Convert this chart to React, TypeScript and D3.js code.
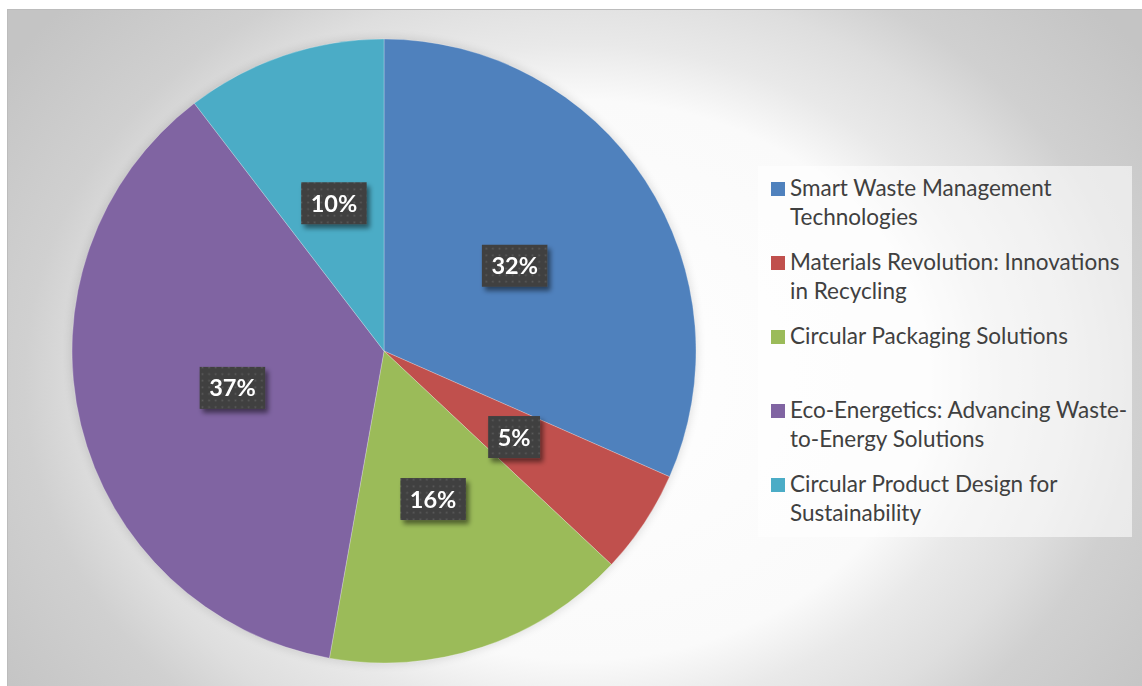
import React, { useMemo } from "react";
import * as d3 from "d3";

const categories = [
  "Smart Waste Management Technologies",
  "Materials Revolution: Innovations in Recycling",
  "Circular Packaging Solutions",
  "Eco-Energetics: Advancing Waste-to-Energy Solutions",
  "Circular Product Design for Sustainability",
];
const shares = [31.6, 5.4, 15.8, 36.8, 10.4];
const colors = ["#4F81BD", "#C0504D", "#9BBB59", "#8064A2", "#4BACC6"];
const legendLines = [
  ["Smart Waste Management", "Technologies"],
  ["Materials Revolution: Innovations", "in Recycling"],
  ["Circular Packaging Solutions"],
  ["Eco-Energetics: Advancing Waste-", "to-Energy Solutions"],
  ["Circular Product Design for", "Sustainability"],
];

const W = 1142;
const H = 686;
const CX = 384;
const CY = 351;
const R = 312;
const LEGEND_TOP_BASELINE = 196;
const LEGEND_STEP = 74;
const LINE_H = 29;
const LABEL_FONT = "bold 23.5px Lato";

function measure(text: string, font: string): number {
  const c = document.createElement("canvas");
  const ctx = c.getContext("2d");
  if (!ctx) return text.length * 12;
  ctx.font = font;
  return ctx.measureText(text).width;
}

export default function App() {
  const total = d3.sum(shares);
  const arcs = useMemo(
    () => d3.pie<number>().sort(null).value((d) => d)(shares),
    []
  );
  const arc = d3.arc<d3.PieArcDatum<number>>().innerRadius(0).outerRadius(R);
  const fmt = d3.format(".0%");

  return (
    <div style={{ position: "absolute", left: 0, top: 0 }}>
      <svg width={W} height={H} style={{ display: "block" }}>
        <defs>
          <radialGradient
            id="bg"
            gradientUnits="userSpaceOnUse"
            cx={580}
            cy={380}
            r={560}
            gradientTransform="translate(580,380) scale(1.24,1) translate(-580,-380)"
          >
            <stop offset="0" stopColor="#ffffff" />
            <stop offset="0.5" stopColor="#fafafa" />
            <stop offset="0.6" stopColor="#e9e9e9" />
            <stop offset="0.71" stopColor="#dedede" />
            <stop offset="0.8" stopColor="#d0d0d0" />
            <stop offset="1" stopColor="#c4c4c4" />
          </radialGradient>
          <pattern id="dots" width={6.6} height={6.6} patternUnits="userSpaceOnUse">
            <rect width={6.6} height={6.6} fill="#404040" />
            <rect x={2.5} y={2.5} width={1.6} height={1.6} fill="#5c5c5c" />
          </pattern>
          <filter id="lblShadow" x="-30%" y="-30%" width="160%" height="160%">
            <feGaussianBlur in="SourceAlpha" stdDeviation="2.5" />
            <feOffset dx="3" dy="3.5" result="b" />
            <feComponentTransfer>
              <feFuncA type="linear" slope="0.5" />
            </feComponentTransfer>
            <feMerge>
              <feMergeNode />
              <feMergeNode in="SourceGraphic" />
            </feMerge>
          </filter>
          <filter id="pieShadow" x="-10%" y="-10%" width="120%" height="120%">
            <feGaussianBlur stdDeviation="5" />
          </filter>
        </defs>

        <rect x={7.5} y={9.5} width={W} height={H} fill="url(#bg)" stroke="#bcbcbc" strokeWidth={1} />

        <circle cx={CX} cy={CY} r={R + 1} fill="#000" opacity={0.12} filter="url(#pieShadow)" />

        <g transform={`translate(${CX},${CY})`}>
          {arcs.map((a, i) => (
            <path
              key={categories[i]}
              d={arc(a) || ""}
              fill={colors[i]}
              stroke="#ffffff"
              strokeWidth={0.5}
              strokeOpacity={0.5}
            />
          ))}
          {arcs.map((a, i) => {
            const [x, y] = arc.centroid(a);
            const label = fmt(a.data / total);
            const tw = measure(label, LABEL_FONT);
            const bw = tw + 19;
            const bh = 42;
            return (
              <g key={"l" + i} filter="url(#lblShadow)">
                <rect x={x - bw / 2} y={y - bh / 2} width={bw} height={bh} fill="url(#dots)" />
                <text
                  x={x}
                  y={y + 8.5}
                  textAnchor="middle"
                  fill="#ffffff"
                  style={{ font: LABEL_FONT }}
                >
                  {label}
                </text>
              </g>
            );
          })}
        </g>

        <rect x={758} y={166} width={374} height={371} fill="#ffffff" opacity={0.58} />
        {legendLines.map((lines, i) => {
          const b = LEGEND_TOP_BASELINE + i * LEGEND_STEP;
          return (
            <g key={"lg" + i}>
              <rect x={771} y={b - 14} width={14} height={14} fill={colors[i]} />
              <text
                x={790}
                y={b}
                fill="#404040"
                style={{ font: "22.5px Lato" }}
              >
                {lines.map((t, j) => (
                  <tspan key={j} x={790} y={b + j * LINE_H}>
                    {t}
                  </tspan>
                ))}
              </text>
            </g>
          );
        })}
      </svg>
    </div>
  );
}
